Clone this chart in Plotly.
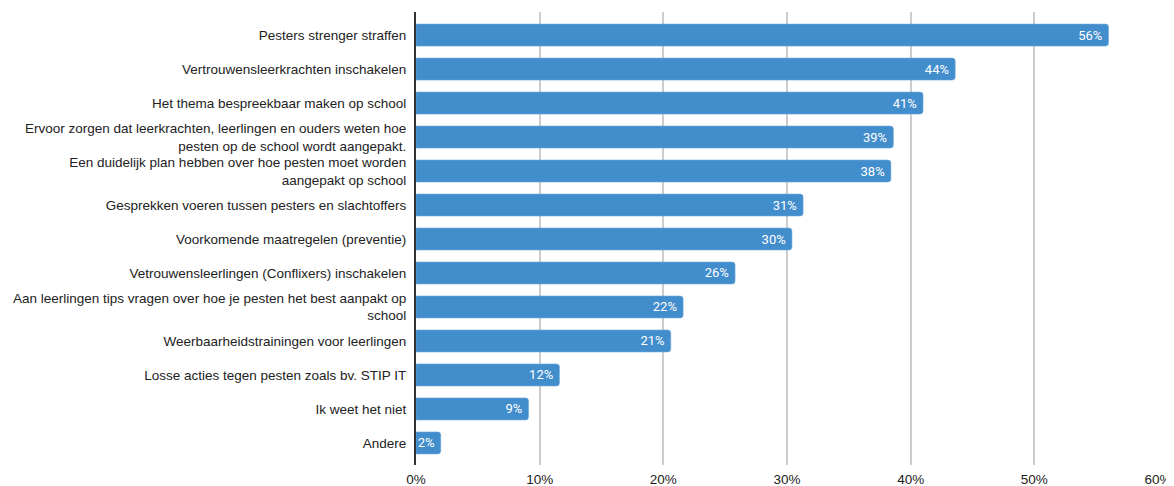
import plotly.graph_objects as go

categories = [
    "Pesters strenger straffen",
    "Vertrouwensleerkrachten inschakelen",
    "Het thema bespreekbaar maken op school",
    "Ervoor zorgen dat leerkrachten, leerlingen en ouders weten hoe<br>pesten op de school wordt aangepakt.",
    "Een duidelijk plan hebben over hoe pesten moet worden<br>aangepakt op school",
    "Gesprekken voeren tussen pesters en slachtoffers",
    "Voorkomende maatregelen (preventie)",
    "Vetrouwensleerlingen (Conflixers) inschakelen",
    "Aan leerlingen tips vragen over hoe je pesten het best aanpakt op<br>school",
    "Weerbaarheidstrainingen voor leerlingen",
    "Losse acties tegen pesten zoals bv. STIP IT",
    "Ik weet het niet",
    "Andere",
]
values = [56.0, 43.6, 41.0, 38.6, 38.4, 31.3, 30.4, 25.8, 21.6, 20.6, 11.6, 9.1, 2.0]
labels = [f"{round(v)}% " for v in values]
tick_vals = [0, 10, 20, 30, 40, 50, 60]
tick_text = ["0%", "10%", "20%", "30%", "40%", "50%", "60%"]

fig = go.Figure(
    go.Bar(
        x=values,
        y=list(range(len(categories))),
        orientation="h",
        text=labels,
        textposition="inside",
        insidetextanchor="end",
        constraintext="none",
        textfont=dict(family="Roboto", size=13, color="white"),
        marker=dict(color="#428dcc", cornerradius=3,
                    line=dict(color="#6fa8db", width=0.6)),
        hoverinfo="skip",
    )
)

fig.update_layout(
    width=1166,
    height=478,
    margin=dict(l=408, r=16, t=4, b=21, autoexpand=False),
    paper_bgcolor="white",
    plot_bgcolor="white",
    bargap=0.353,
    showlegend=False,
    font=dict(family="Liberation Sans, Arial, sans-serif", size=13.5, color="#222"),
)
fig.update_xaxes(
    range=[0, 60],
    tickvals=tick_vals,
    ticktext=tick_text,
    showgrid=True,
    gridcolor="#cccccc",
    gridwidth=2,
    zeroline=False,
    showline=False,
    ticks="",
    automargin=False,
    ticklabelstandoff=4,
    tickfont=dict(family="Liberation Sans, Arial, sans-serif", size=13.5, color="#222"),
)
fig.update_yaxes(
    range=[12.65, -0.68],
    tickvals=list(range(len(categories))),
    ticktext=categories,
    showline=True,
    linecolor="#333333",
    linewidth=2,
    showgrid=False,
    zeroline=False,
    ticks="",
    automargin=False,
    ticklabelstandoff=5,
    tickfont=dict(family="Liberation Sans, Arial, sans-serif", size=13.5, color="#222"),
)

fig.write_html("out.html")
